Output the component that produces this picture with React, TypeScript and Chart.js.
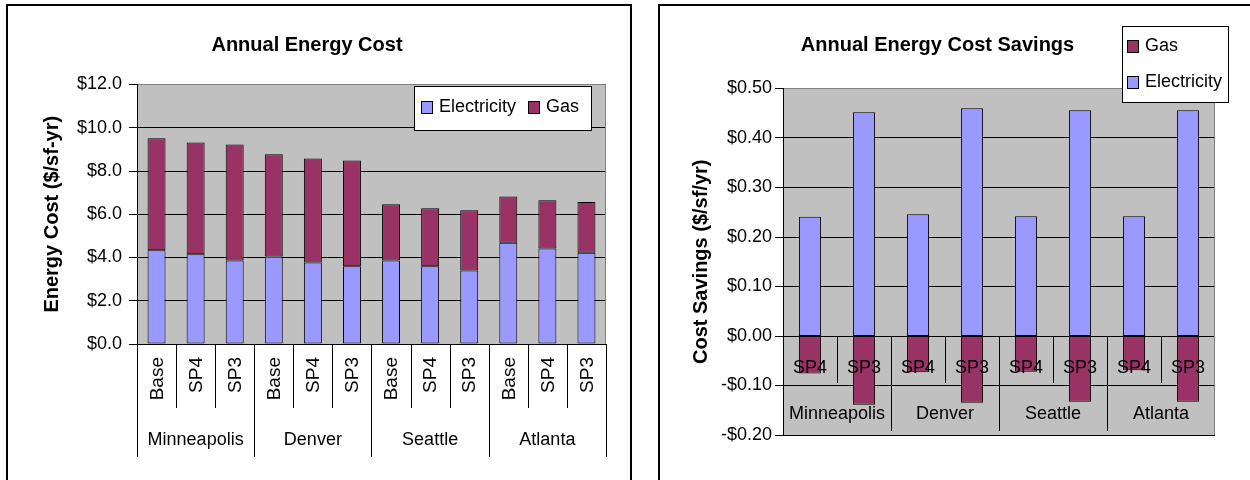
import React, { useEffect, useRef } from 'react';
import { Chart, registerables } from 'chart.js';

Chart.register(...registerables);

const FONT = "'Liberation Sans', Arial, sans-serif";

// ---- Left chart data: Annual Energy Cost ($/sf-yr)
const cities = ['Minneapolis', 'Denver', 'Seattle', 'Atlanta'];
const costCategories = ['Base', 'SP4', 'SP3', 'Base', 'SP4', 'SP3', 'Base', 'SP4', 'SP3', 'Base', 'SP4', 'SP3'];
const costElectricity = [4.33, 4.15, 3.86, 4.05, 3.77, 3.6, 3.86, 3.6, 3.4, 4.68, 4.42, 4.22];
const costGas = [5.19, 5.17, 5.37, 4.72, 4.81, 4.88, 2.6, 2.68, 2.79, 2.14, 2.23, 2.35];
const costAxisMin = 0;
const costAxisMax = 12;
const costAxisStep = 2;

// ---- Right chart data: Annual Energy Cost Savings ($/sf/yr)
const savingsCategories = ['SP4', 'SP3', 'SP4', 'SP3', 'SP4', 'SP3', 'SP4', 'SP3'];
const savingsElectricity = [0.241, 0.452, 0.246, 0.46, 0.242, 0.456, 0.242, 0.456];
const savingsGas = [-0.076, -0.139, -0.073, -0.135, -0.072, -0.133, -0.069, -0.133];
const savingsAxisMin = -0.2;
const savingsAxisMax = 0.5;
const savingsAxisStep = 0.1;

const ELEC = '#9999FF';
const GAS = '#993366';
const PLOT_BG = '#C0C0C0';

function fillPlot(chart: any) {
  const { ctx, chartArea: a } = chart;
  ctx.save();
  ctx.fillStyle = PLOT_BG;
  ctx.fillRect(a.left, a.top, a.right - a.left, a.bottom - a.top);
  ctx.restore();
}

function rightBorder(chart: any) {
  const { ctx, chartArea: a } = chart;
  ctx.save();
  ctx.strokeStyle = '#808080';
  ctx.lineWidth = 1;
  ctx.beginPath();
  const x = Math.round(a.right) - 0.5;
  ctx.moveTo(x, a.top);
  ctx.lineTo(x, a.bottom);
  ctx.stroke();
  ctx.restore();
}

function vline(ctx: any, x: number, y1: number, y2: number) {
  const px = Math.round(x) + 0.5;
  ctx.beginPath();
  ctx.moveTo(px, y1);
  ctx.lineTo(px, y2);
  ctx.stroke();
}

function drawLegend(ctx: any, box: { x: number; y: number; w: number; h: number }, items: { label: string; color: string; kx: number; ky: number }[]) {
  ctx.save();
  ctx.fillStyle = '#FFFFFF';
  ctx.fillRect(box.x, box.y, box.w, box.h);
  ctx.strokeStyle = '#000000';
  ctx.lineWidth = 1;
  ctx.strokeRect(box.x + 0.5, box.y + 0.5, box.w, box.h);
  ctx.font = `18px ${FONT}`;
  ctx.textBaseline = 'middle';
  ctx.textAlign = 'left';
  items.forEach((it) => {
    ctx.fillStyle = it.color;
    ctx.fillRect(box.x + it.kx, box.y + it.ky - 6, 11, 12);
    ctx.strokeRect(box.x + it.kx + 0.5, box.y + it.ky - 6 + 0.5, 11, 12);
    ctx.fillStyle = '#000000';
    ctx.fillText(it.label, box.x + it.kx + 18, box.y + it.ky);
  });
  ctx.restore();
}

const costDecor = {
  id: 'costDecor',
  beforeDraw(chart: any) {
    fillPlot(chart);
  },
  beforeDatasetsDraw(chart: any) {
    rightBorder(chart);
  },
  afterDatasetsDraw(chart: any) {
    const { ctx } = chart;
    const x = chart.scales.x;
    const y0 = chart.scales.y.getPixelForValue(0);
    const n = costCategories.length;
    const half = (x.getPixelForValue(1) - x.getPixelForValue(0)) / 2;
    ctx.save();
    ctx.strokeStyle = '#000000';
    ctx.lineWidth = 1;
    for (let i = 0; i <= n; i++) {
      const bx = i < n ? x.getPixelForValue(i) - half : x.getPixelForValue(n - 1) + half;
      const isGroup = i % 3 === 0;
      vline(ctx, bx, y0, y0 + (isGroup ? 113 : 64));
    }
    ctx.fillStyle = '#000000';
    ctx.font = `19px ${FONT}`;
    ctx.textAlign = 'right';
    ctx.textBaseline = 'middle';
    costCategories.forEach((lab, i) => {
      ctx.save();
      ctx.translate(x.getPixelForValue(i) + 1, y0 + 13);
      ctx.rotate(-Math.PI / 2);
      ctx.fillText(lab, 0, 0);
      ctx.restore();
    });
    ctx.font = `18px ${FONT}`;
    ctx.textAlign = 'center';
    cities.forEach((c, g) => {
      const cx = (x.getPixelForValue(g * 3) + x.getPixelForValue(g * 3 + 2)) / 2;
      ctx.fillText(c, cx, y0 + 96);
    });
    ctx.restore();
    drawLegend(ctx, { x: 406, y: 80, w: 177, h: 44 }, [
      { label: 'Electricity', color: ELEC, kx: 7, ky: 21 },
      { label: 'Gas', color: GAS, kx: 114, ky: 21 },
    ]);
  },
};

const savingsDecor = {
  id: 'savingsDecor',
  beforeDraw(chart: any) {
    fillPlot(chart);
  },
  beforeDatasetsDraw(chart: any) {
    rightBorder(chart);
  },
  afterDatasetsDraw(chart: any) {
    const { ctx } = chart;
    const x = chart.scales.x;
    const y0 = chart.scales.y.getPixelForValue(0);
    const n = savingsCategories.length;
    const half = (x.getPixelForValue(1) - x.getPixelForValue(0)) / 2;
    ctx.save();
    ctx.strokeStyle = '#000000';
    ctx.lineWidth = 1;
    for (let i = 1; i < n; i++) {
      const bx = x.getPixelForValue(i) - half;
      const isGroup = i % 2 === 0;
      vline(ctx, bx, y0, y0 + (isGroup ? 95 : 47));
    }
    ctx.fillStyle = '#000000';
    ctx.font = `18px ${FONT}`;
    ctx.textAlign = 'center';
    ctx.textBaseline = 'middle';
    savingsCategories.forEach((lab, i) => {
      ctx.fillText(lab, x.getPixelForValue(i), y0 + 32);
    });
    cities.forEach((c, g) => {
      const cx = (x.getPixelForValue(g * 2) + x.getPixelForValue(g * 2 + 1)) / 2;
      ctx.fillText(c, cx, y0 + 78);
    });
    ctx.restore();
    drawLegend(ctx, { x: 462, y: 20, w: 106, h: 76 }, [
      { label: 'Gas', color: GAS, kx: 5, ky: 20 },
      { label: 'Electricity', color: ELEC, kx: 5, ky: 56 },
    ]);
  },
};

function money1(v: number) {
  return '$' + Number(v).toFixed(1);
}
function money2(v: number) {
  const r = Math.round(v * 100) / 100;
  return (r < 0 ? '-$' : '$') + Math.abs(r).toFixed(2);
}

export default function App() {
  const leftRef = useRef<HTMLCanvasElement | null>(null);
  const rightRef = useRef<HTMLCanvasElement | null>(null);

  useEffect(() => {
    const tickFont = { family: FONT, size: 18 };
    const titleFont = { family: FONT, size: 20, weight: 'bold' as const };

    const left = new Chart(leftRef.current as HTMLCanvasElement, {
      type: 'bar',
      data: {
        labels: costCategories,
        datasets: [
          {
            label: 'Electricity',
            data: costElectricity,
            backgroundColor: ELEC,
            borderColor: '#000000',
            borderWidth: 1,
            borderSkipped: false,
            barPercentage: 0.46,
            categoryPercentage: 1,
          },
          {
            label: 'Gas',
            data: costGas,
            backgroundColor: GAS,
            borderColor: '#000000',
            borderWidth: 1,
            borderSkipped: false,
            barPercentage: 0.46,
            categoryPercentage: 1,
          },
        ],
      },
      options: {
        responsive: false,
        animation: false,
        layout: { padding: { left: 0, right: 24, top: 0, bottom: 136 } },
        plugins: {
          legend: { display: false },
          tooltip: { enabled: false },
          title: {
            display: true,
            text: 'Annual Energy Cost',
            color: '#000000',
            font: titleFont,
            padding: { top: 27, bottom: 27.5 },
          },
        },
        scales: {
          x: { stacked: true, display: false },
          y: {
            stacked: true,
            min: costAxisMin,
            max: costAxisMax,
            ticks: { stepSize: costAxisStep, callback: (v: any) => money1(v), color: '#000000', font: tickFont, padding: 7 },
            grid: {
              color: (c: any) => (c.tick && c.tick.value === costAxisMax ? '#808080' : '#000000'),
              tickColor: '#000000',
              tickLength: 8,
            },
            border: { display: true, color: '#000000', width: 1 },
            title: {
              display: true,
              text: 'Energy Cost ($/sf-yr)',
              color: '#000000',
              font: titleFont,
              padding: { top: 32, bottom: 0 },
            },
            afterFit: (s: any) => {
              s.width = 129;
            },
          },
        },
      },
      plugins: [costDecor],
    } as any);

    const right = new Chart(rightRef.current as HTMLCanvasElement, {
      type: 'bar',
      data: {
        labels: savingsCategories,
        datasets: [
          {
            label: 'Electricity',
            data: savingsElectricity,
            backgroundColor: ELEC,
            borderColor: '#000000',
            borderWidth: 1,
            borderSkipped: false,
            barPercentage: 0.41,
            categoryPercentage: 1,
          },
          {
            label: 'Gas',
            data: savingsGas,
            backgroundColor: GAS,
            borderColor: '#000000',
            borderWidth: 1,
            borderSkipped: false,
            barPercentage: 0.41,
            categoryPercentage: 1,
          },
        ],
      },
      options: {
        responsive: false,
        animation: false,
        layout: { padding: { left: 0, right: 41, top: 0, bottom: 45 } },
        plugins: {
          legend: { display: false },
          tooltip: { enabled: false },
          title: {
            display: true,
            text: 'Annual Energy Cost Savings',
            color: '#000000',
            font: titleFont,
            padding: { top: 27, bottom: 31.5 },
          },
        },
        scales: {
          x: { stacked: true, display: false },
          y: {
            stacked: true,
            min: savingsAxisMin,
            max: savingsAxisMax,
            ticks: { stepSize: savingsAxisStep, callback: (v: any) => money2(v), color: '#000000', font: tickFont, padding: 3 },
            grid: {
              color: (c: any) => (c.tick && Math.abs(c.tick.value - savingsAxisMax) < 1e-9 ? '#808080' : '#000000'),
              tickColor: '#000000',
              tickLength: 8,
            },
            border: { display: true, color: '#000000', width: 1 },
            title: {
              display: true,
              text: 'Cost Savings ($/sf/yr)',
              color: '#000000',
              font: titleFont,
              padding: { top: 29, bottom: 0 },
            },
            afterFit: (s: any) => {
              s.width = 123;
            },
          },
        },
      },
      plugins: [savingsDecor],
    } as any);

    return () => {
      left.destroy();
      right.destroy();
    };
  }, []);

  return (
    <div style={{ position: 'fixed', left: 0, top: 0, width: 1250, height: 480, overflow: 'hidden', background: '#ffffff' }}>
      <div style={{ position: 'absolute', left: 6, top: 4, width: 622, height: 520, border: '2px solid #000000' }} />
      <canvas ref={leftRef} width={622} height={474} style={{ position: 'absolute', left: 8, top: 6 }} />
      <div style={{ position: 'absolute', left: 658, top: 4, width: 620, height: 520, border: '2px solid #000000' }} />
      <canvas ref={rightRef} width={596} height={474} style={{ position: 'absolute', left: 660, top: 6 }} />
    </div>
  );
}
